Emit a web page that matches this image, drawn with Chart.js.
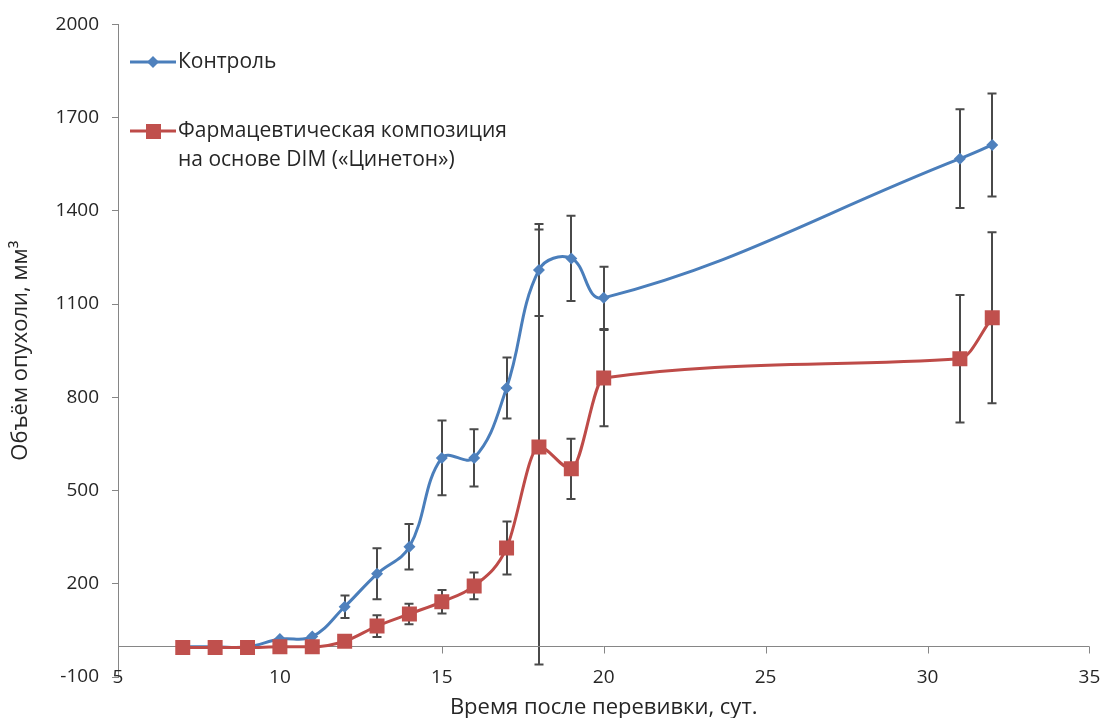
<!DOCTYPE html>
<html><head><meta charset="utf-8">
<script src="https://cdn.jsdelivr.net/npm/chart.js@4.4.1/dist/chart.umd.min.js"></script>
<style>html,body{margin:0;padding:0;background:#fff}#wrap{width:1100px;height:718px;position:relative}</style>
</head><body><div id="wrap"><canvas id="c" width="1100" height="718"></canvas></div>
<script>
// ---- data ----
const days = [7, 8, 9, 10, 11, 12, 13, 14, 15, 16, 17, 18, 19, 20, 31, 32];
const controlValues = [-3, -3, -3, 22, 30, 126, 232, 319, 605, 605, 830, 1210, 1247, 1120, 1568, 1612];
const controlErrors = [0, 0, 0, 0, 0, 36, 82, 73, 120, 92, 98, 148, 137, 100, 159, 166];
const drugValues = [-5, -5, -5, -3, -3, 15, 64, 103, 142, 193, 315, 640, 570, 862, 924, 1056];
const drugErrors = [0, 0, 0, 0, 0, 0, 35, 33, 38, 43, 85, 700, 97, 155, 205, 275];
const xTicks = [5, 10, 15, 20, 25, 30, 35];
const yTicks = [-100, 200, 500, 800, 1100, 1400, 1700, 2000];
const controlName = 'Контроль';
const drugName = ['Фармацевтическая композиция', 'на основе DIM («Цинетон»)'];
const xTitle = 'Время после перевивки, сут.';
const yTitle = 'Объём опухоли, мм³';

const FONT = '"Open Sans", "Noto Sans", sans-serif';
const TXT = '#262626';
const AXIS = '#868686';
const BLUE_LINE = '#4a7ebb', BLUE = '#4f81bd';
const RED_LINE = '#be4b48', RED = '#c0504d';

const toPts = (vals) => vals.map((v, i) => ({x: days[i], y: v}));

const errorBars = {
  id: 'errorBars',
  beforeDatasetsDraw(chart) {
    const {ctx, scales: {x, y}} = chart;
    ctx.save();
    ctx.strokeStyle = '#4a4a4a';
    ctx.lineWidth = 2;
    chart.data.datasets.forEach(ds => {
      (ds.errors || []).forEach((e, i) => {
        if (!e) return;
        const p = ds.data[i];
        const px = Math.round(x.getPixelForValue(p.x));
        const t = y.getPixelForValue(p.y + e);
        const b = y.getPixelForValue(p.y - e);
        ctx.beginPath();
        ctx.moveTo(px, t); ctx.lineTo(px, b);
        ctx.moveTo(px - 4.5, t); ctx.lineTo(px + 4.5, t);
        ctx.moveTo(px - 4.5, b); ctx.lineTo(px + 4.5, b);
        ctx.stroke();
      });
    });
    ctx.restore();
  }
};

// horizontal axis crosses at y = 0; its labels sit at the bottom of the plot
const zeroAxis = {
  id: 'zeroAxis',
  beforeDatasetsDraw(chart) {
    const {ctx, chartArea, scales: {x, y}} = chart;
    const py = Math.round(y.getPixelForValue(0)) + 0.5;
    ctx.save();
    ctx.strokeStyle = AXIS;
    ctx.lineWidth = 1;
    ctx.beginPath();
    ctx.moveTo(chartArea.left, py); ctx.lineTo(chartArea.right, py);
    x.ticks.forEach(t => {
      const px = Math.round(x.getPixelForValue(t.value)) + 0.5;
      ctx.moveTo(px, py); ctx.lineTo(px, py + 7);
    });
    ctx.stroke();
    ctx.fillStyle = TXT;
    ctx.font = '19px ' + FONT;
    ctx.textAlign = 'center';
    ctx.textBaseline = 'middle';
    x.ticks.forEach(t => {
      ctx.fillText(String(t.value), x.getPixelForValue(t.value), chartArea.bottom + 1);
    });
    ctx.restore();
  }
};

const legendPlugin = {
  id: 'insideLegend',
  afterDraw(chart) {
    const {ctx} = chart;
    ctx.save();
    ctx.font = '21px ' + FONT;
    ctx.fillStyle = TXT;
    ctx.textBaseline = 'middle';
    // control
    ctx.strokeStyle = BLUE_LINE; ctx.lineWidth = 3;
    ctx.beginPath(); ctx.moveTo(130, 62); ctx.lineTo(176, 62); ctx.stroke();
    ctx.fillStyle = BLUE;
    ctx.beginPath(); ctx.moveTo(153, 56); ctx.lineTo(159, 62); ctx.lineTo(153, 68); ctx.lineTo(147, 62); ctx.closePath(); ctx.fill();
    ctx.fillStyle = TXT;
    ctx.fillText(controlName, 178, 62);
    // drug
    ctx.strokeStyle = RED_LINE; ctx.lineWidth = 3;
    ctx.beginPath(); ctx.moveTo(130, 131); ctx.lineTo(176, 131); ctx.stroke();
    ctx.fillStyle = RED;
    ctx.fillRect(146, 124, 15, 15);
    ctx.fillStyle = TXT;
    ctx.fillText(drugName[0], 178, 131);
    ctx.fillText(drugName[1], 178, 160);
    ctx.restore();
  }
};

new Chart(document.getElementById('c'), {
  type: 'line',
  data: {
    datasets: [
      {
        label: controlName,
        data: toPts(controlValues),
        errors: controlErrors,
        borderColor: BLUE_LINE,
        backgroundColor: BLUE,
        borderWidth: 3,
        pointStyle: 'rectRot',
        pointRadius: 6,
        pointBorderWidth: 0,
        pointBackgroundColor: BLUE,
        tension: 0.4,
        order: 2
      },
      {
        label: drugName.join(' '),
        data: toPts(drugValues),
        errors: drugErrors,
        borderColor: RED_LINE,
        backgroundColor: RED,
        borderWidth: 3,
        pointStyle: 'rect',
        pointRadius: 10.6,
        pointBorderWidth: 0,
        pointBackgroundColor: RED,
        cubicInterpolationMode: 'monotone',
        order: 1
      }
    ]
  },
  options: {
    responsive: false,
    animation: false,
    layout: {padding: {top: 24, right: 10, left: 0, bottom: 0}},
    plugins: {legend: {display: false}, tooltip: {enabled: false}},
    scales: {
      x: {
        type: 'linear',
        min: 5, max: 35,
        afterBuildTicks: (s) => { s.ticks = xTicks.map(v => ({value: v})); },
        afterFit: (s) => { s.height = 41; },
        border: {display: false},
        grid: {display: false},
        ticks: {display: false},
        title: {display: true, text: xTitle, color: TXT, font: {family: FONT, size: 22}, padding: {top: 0, bottom: -3}}
      },
      y: {
        type: 'linear',
        min: -100, max: 2000,
        afterBuildTicks: (s) => { s.ticks = yTicks.map(v => ({value: v})); },
        afterFit: (s) => { s.width = 118; },
        border: {display: true, color: AXIS, width: 1},
        grid: {drawOnChartArea: false, drawTicks: true, tickLength: 6, color: AXIS},
        ticks: {color: TXT, font: {family: FONT, size: 19}, padding: 13, callback: (v) => String(v)},
        title: {display: true, text: yTitle, color: TXT, font: {family: FONT, size: 22}, padding: {top: 8, bottom: 0}}
      }
    }
  },
  plugins: [errorBars, zeroAxis, legendPlugin]
});
</script>
</body></html>
